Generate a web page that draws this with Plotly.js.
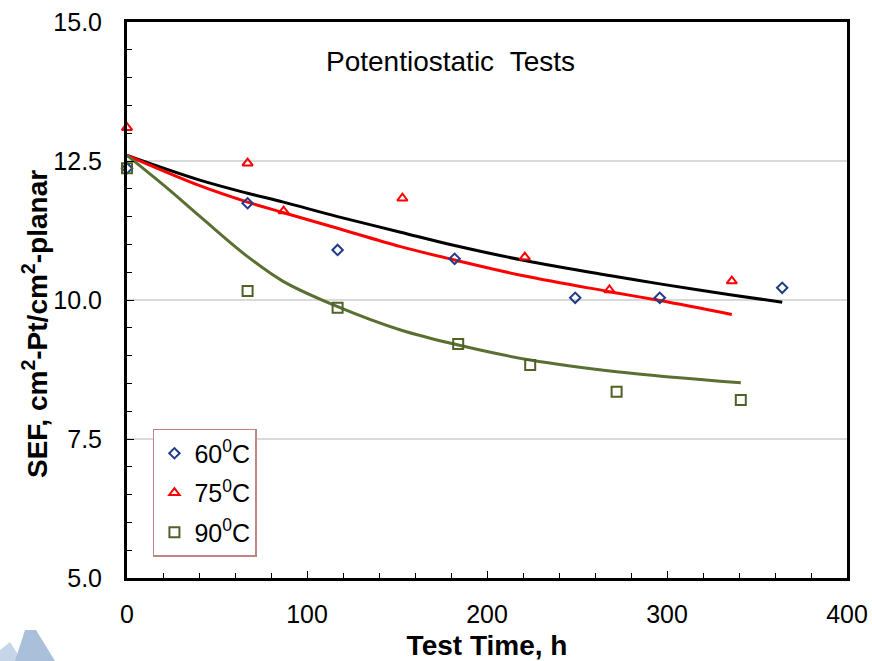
<!DOCTYPE html>
<html>
<head>
<meta charset="utf-8">
<script src="https://cdn.plot.ly/plotly-3.0.1.min.js"></script>
<style>html,body{margin:0;padding:0;background:#fff;}</style>
</head>
<body>
<div id="chart" style="width:872px;height:661px;"></div>
<script>
// Measured points
const time60 = [0, 67, 117, 182, 249, 296, 364];
const sef60  = [12.37, 11.74, 10.90, 10.74, 10.04, 10.04, 10.22];
const time75 = [0, 67, 87, 153, 221, 268, 336];
const sef75  = [13.10, 12.46, 11.60, 11.83, 10.77, 10.18, 10.34];
const time90 = [0, 67, 117, 184, 224, 272, 341];
const sef90  = [12.37, 10.16, 9.86, 9.21, 8.83, 8.35, 8.20];

// Fitted curves
const fitTime60 = [0, 40, 67, 87, 117, 152, 182, 221, 268, 296, 336, 364];
const fitSef60  = [12.60, 12.16, 11.92, 11.76, 11.50, 11.22, 10.98, 10.71, 10.44, 10.29, 10.09, 9.96];
const fitTime75 = [0, 40, 67, 87, 117, 152, 182, 221, 268, 296, 336];
const fitSef75  = [12.60, 12.06, 11.76, 11.57, 11.29, 10.96, 10.72, 10.43, 10.15, 9.99, 9.74];
const fitTime90 = [0, 22, 41, 67, 87, 117, 152, 184, 224, 272, 341];
const fitSef90  = [12.60, 12.02, 11.49, 10.78, 10.33, 9.88, 9.46, 9.19, 8.92, 8.71, 8.51];

const legendNames = ['60<sup>0</sup>C', '75<sup>0</sup>C', '90<sup>0</sup>C'];
const xTitle = 'Test Time, h';
const yTitle = 'SEF, cm<sup>2</sup>-Pt/cm<sup>2</sup>-planar';
const chartLabel = 'Potentiostatic\u00a0\u00a0Tests';

const c60 = '#1f3c88', c75 = '#ff0000', c90 = '#4f6228', cFit90 = '#5a7032';

function fitTrace(x, y, color) {
  return {x: x, y: y, type: 'scatter', mode: 'lines', showlegend: false, hoverinfo: 'skip',
          line: {color: color, width: 3, shape: 'spline', smoothing: 1}};
}
function ptTrace(x, y, name, symbol, size, color, grp) {
  return {x: x, y: y, type: 'scatter', mode: 'markers', name: name, legendgroup: grp,
          cliponaxis: false,
          marker: {symbol: symbol, size: size, color: color, line: {color: color, width: 2}}};
}

const data = [
  fitTrace(fitTime60, fitSef60, '#000000'),
  fitTrace(fitTime75, fitSef75, c75),
  fitTrace(fitTime90, fitSef90, cFit90),
  ptTrace(time60, sef60, legendNames[0], 'diamond-open', 8, c60, 'a'),
  ptTrace(time75, sef75, legendNames[1], 'triangle-up-open', 9, c75, 'b'),
  ptTrace(time90, sef90, legendNames[2], 'square-open', 10, c90, 'c')
];

const font = 'Liberation Sans, Arial, sans-serif';
const layout = {
  width: 872, height: 661,
  margin: {l: 127, r: 25, t: 22, b: 83},
  paper_bgcolor: '#ffffff', plot_bgcolor: '#ffffff',
  font: {family: font, color: '#000000'},
  showlegend: true,
  xaxis: {
    range: [0, 400], tick0: 0, dtick: 100, tickformat: 'd',
    ticks: 'inside', ticklen: 7, tickwidth: 1, tickcolor: '#000',
    minor: {dtick: 20, ticks: 'inside', ticklen: 5, tickwidth: 1, tickcolor: '#000', showgrid: false},
    showline: true, linewidth: 3, linecolor: '#000', mirror: true,
    showgrid: false, zeroline: false,
    tickfont: {size: 25, family: font},
    ticklabelstandoff: 12,
    title: {text: xTitle, font: {size: 28, family: font, weight: 'bold'}, standoff: 18}
  },
  yaxis: {
    range: [5, 15], tick0: 5, dtick: 2.5, tickformat: '.1f',
    ticks: 'inside', ticklen: 7, tickwidth: 1, tickcolor: '#000',
    minor: {dtick: 0.5, ticks: 'inside', ticklen: 5, tickwidth: 1, tickcolor: '#000', showgrid: false},
    showline: true, linewidth: 3, linecolor: '#000', mirror: true,
    showgrid: true, gridcolor: '#d9d9d9', gridwidth: 1.5, zeroline: false,
    tickfont: {size: 25, family: font},
    ticklabelstandoff: 17
  },
  legend: {
    x: 0.036, y: 0.268, xanchor: 'left', yanchor: 'top',
    bgcolor: '#ffffff', bordercolor: '#c08484', borderwidth: 1.5,
    font: {size: 25, family: font}, traceorder: 'grouped', tracegroupgap: 4,
    itemwidth: 30
  },
  annotations: [{
    text: chartLabel, xref: 'paper', yref: 'paper', x: 0.449, y: 0.929,
    xanchor: 'center', yanchor: 'middle', showarrow: false,
    font: {size: 28, family: font, color: '#000'}
  }, {
    text: yTitle, xref: 'paper', yref: 'paper', x: (35 - 127) / 720, y: (578 - 324) / 556,
    xanchor: 'center', yanchor: 'middle', showarrow: false, textangle: -90,
    font: {size: 28, family: font, color: '#000', weight: 'bold'}
  }],
  shapes: [
    {type: 'path', xref: 'paper', yref: 'paper', layer: 'above', line: {width: 0}, fillcolor: '#c6d5e8',
     path: 'M ' + (-127/720) + ' ' + (-(650-578)/556) + ' L ' + ((10-127)/720) + ' ' + (-(642-578)/556) +
           ' L ' + ((22-127)/720) + ' ' + (-(661-578)/556) + ' L ' + (-127/720) + ' ' + (-(661-578)/556) + ' Z'},
    {type: 'path', xref: 'paper', yref: 'paper', layer: 'above', line: {width: 0}, fillcolor: '#a9bfda',
     path: 'M ' + ((15-127)/720) + ' ' + (-(661-578)/556) + ' L ' + ((25-127)/720) + ' ' + (-(630-578)/556) +
           ' L ' + ((36-127)/720) + ' ' + (-(630-578)/556) + ' L ' + ((55-127)/720) + ' ' + (-(661-578)/556) + ' Z'}
  ]
};

Plotly.newPlot('chart', data, layout, {displayModeBar: false, staticPlot: true});
</script>
</body>
</html>
